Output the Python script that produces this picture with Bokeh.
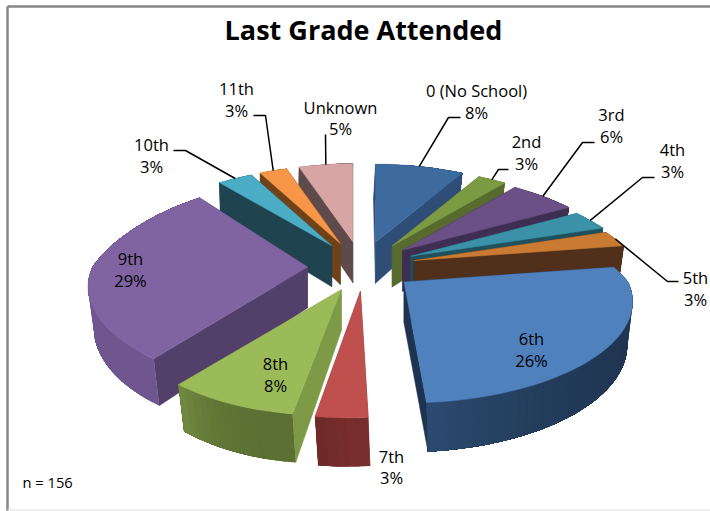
import math
from bokeh.embed import file_html
from bokeh.models import Range1d
from bokeh.plotting import figure
from bokeh.resources import INLINE
from bokeh.core.properties import value

# ---- data (head-counts, n = 156) ----
categories = ["0 (No School)", "2nd", "3rd", "4th", "5th", "6th", "7th", "8th", "9th", "10th", "11th", "Unknown"]
counts = [13, 4, 9, 5, 4, 41, 5, 13, 45, 5, 4, 8]
title_text = "Last Grade Attended"
note_text = "n = 156"

# ---- styles ----
top_colors = ["#3E6B9F", "#7B9A41", "#6A5085", "#3A91A8", "#C97B33", "#4F81BD",
              "#C0504D", "#9BBB59", "#8064A2", "#4BACC6", "#F79646", "#D7A5A4"]
side_colors = ["#2E4E78", "#566B2D", "#3E2F52", "#1F505C", "#50301A", "#1E3350",
               "#772E2C", "#7E9A47", "#53406A", "#1F4450", "#6F4218", "#5E4A4A"]
outer_a = ["#2E4E78", "#566B2D", "#3E2F52", "#1F505C", "#50301A", "#1F3450",
           "#772E2C", "#5C7033", "#6F568F", "#1F4450", "#6F4218", "#5E4A4A"]
outer_b = ["#2E4E78", "#566B2D", "#3E2F52", "#1F505C", "#50301A", "#2B4B70",
           "#692827", "#718B41", "#5A4676", "#1F4450", "#6F4218", "#5E4A4A"]
paint_order = [0, 11, 10, 9, 1, 2, 3, 4, 8, 7, 6, 5]

# ---- projection of the tilted, exploded pie ----
CX, CY = 361, 266      # pie centre on the page
EX, EY = 54, 25        # explosion offset
A, B, P = 224, 95, 0.216   # radii and perspective
PX_BACK, PX_FRONT = 0.335, 0.2
H = 41                 # extrusion height
# per-slice corrections of the projection: x skew at the front, x scale, y shift front / back
tweaks = {6: (14, 0.95, 5, 0), 7: (16, 1.0, 4, 0), 8: (0, 0.96, 0, 8)}


def apex(mid):
    return CX + EX * math.sin(mid), CY - EY * math.cos(mid)


def rim(i, ax, ay, t, low=False):
    skew, scale, down, lift = tweaks.get(i, (0, 1.0, 0, 0))
    X, Y = math.sin(t), -math.cos(t)
    s = 1 / (1 - P * Y)
    sx = 1 / (1 - (PX_BACK if Y < 0 else PX_FRONT) * Y)
    x = X * A * sx * scale - skew * max(0, Y) ** 8
    y = Y * B * s + down * max(0, Y) + lift * min(0, Y)
    if low:
        return ax + x * 0.975 + 2 * Y, ay + y + H * (1 + (s - 1) * 0.7)
    return ax + x, ay + y


total = sum(counts)
edges = [0]
for v in counts:
    edges.append(edges[-1] + v / total * 2 * math.pi)

mids = [(edges[i] + edges[i + 1]) / 2 for i in range(len(counts))]


def mix(c1, c2, f):
    a = [int(c1[k:k + 2], 16) for k in (1, 3, 5)]
    b = [int(c2[k:k + 2], 16) for k in (1, 3, 5)]
    return "#%02x%02x%02x" % tuple(round(a[k] + (b[k] - a[k]) * f) for k in range(3))


p = figure(width=710, height=511, x_range=Range1d(0, 710), y_range=Range1d(511, 0),
           toolbar_location=None, output_backend="svg", min_border=0,
           background_fill_color="white", border_fill_color="white")
p.axis.visible = False
p.grid.visible = False
p.outline_line_color = None

# frame
p.line([7, 7], [511, 6], line_color="#868686", line_width=2.5)
p.line([7, 712], [6, 6], line_color="#868686", line_width=2.5)
p.line([7, 712], [509.5, 509.5], line_color="#E8E8E8", line_width=1.5)

for i in paint_order:
    t0, t1 = edges[i], edges[i + 1]
    ax, ay = apex(mids[i])
    steps = max(4, int(math.degrees(t1 - t0) / 2))
    ts = [t0 + (t1 - t0) * k / steps for k in range(steps + 1)]
    # radial side walls
    for t in (t0, t1):
        tx, ty = rim(i, ax, ay, t)
        bx, by = rim(i, ax, ay, t, True)
        p.patch([ax, tx, bx, ax], [ay, ty, by, ay + H], fill_color=side_colors[i],
                line_color=side_colors[i], line_width=0.5)
    # outer wall: shaded strips, each running on to the wall's end so no seam shows
    for k in range(steps):
        run = ts[k:]
        top = [rim(i, ax, ay, a) for a in run]
        low = [rim(i, ax, ay, a, True) for a in reversed(run)]
        q = top + low
        col = mix(outer_a[i], outer_b[i], ((k + 0.5) / steps) ** 3)
        p.patch([c[0] for c in q], [c[1] for c in q], fill_color=col, line_color=None)
    # top face
    pts = [rim(i, ax, ay, t) for t in ts]
    p.patch([ax] + [c[0] for c in pts], [ay] + [c[1] for c in pts], fill_color=top_colors[i],
            line_color=top_colors[i], line_width=0.5)

# leaders: start on the slice rim, then elbow to the label
elbows = {
    0: [(448, 117), (460, 117)],
    1: [(498, 169), (508, 169)],
    2: [(582, 142), (594, 142)],
    3: [(642, 177), (654, 177)],
    4: [(667, 281), (678, 281)],
    9: [(185, 150), (173, 150)],
    10: [(265, 115), (253, 115)],
    11: [(325, 134)],
}
for i, bend in elbows.items():
    sx, sy = rim(i, *apex(mids[i]), mids[i])
    xs = [sx] + [c[0] for c in bend]
    ys = [sy] + [c[1] for c in bend]
    p.line(xs, ys, line_color="black", line_width=1.5)

# label anchors (centre of name line, centre of value line)
anchors = [(476, 90, 112), (526, 141, 163), (611, 114, 136), (672, 149, 171),
           (695, 277, 299), (531, 338, 360), (391, 456, 477), (275, 363, 385),
           (130, 258, 280), (151, 144, 166), (236, 88, 110), (340, 107, 128)]
for i, (lx, y1, y2) in enumerate(anchors):
    pct = round(counts[i] / total * 100)
    for txt, yy in ((categories[i], y1), (f"{pct}%", y2)):
        p.text([lx], [yy], text=[txt], text_font=value("Open Sans"), text_font_size="16.5px",
               text_color="black", text_align="center", text_baseline="middle")

p.text([363], [29], text=[title_text], text_font=value("Open Sans"), text_font_size="27px",
       text_font_style="bold", text_color="black", text_align="center", text_baseline="middle")
p.text([22], [481], text=[note_text], text_font=value("Open Sans"), text_font_size="14.7px",
       text_color="black", text_align="left", text_baseline="middle")

open("out.html", "w").write(file_html(p, INLINE))
